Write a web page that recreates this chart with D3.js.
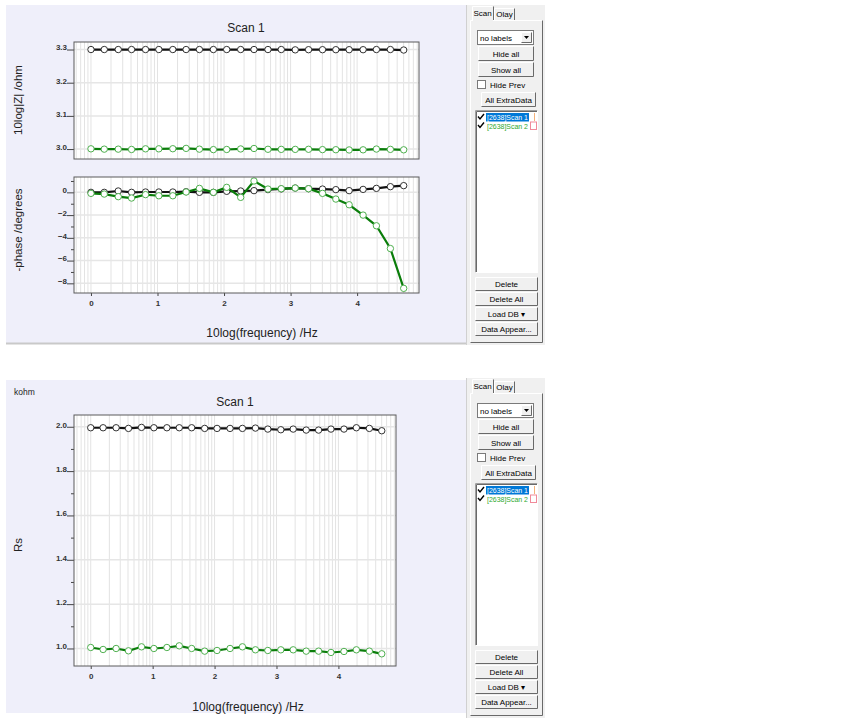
<!doctype html>
<html lang="en">
<head>
  <meta charset="utf-8">
  <style>
    body { margin: 0; background: #fff; }
    svg text { font-family: "Liberation Sans", Arial, sans-serif; }
  </style>
  <script src="https://d3js.org/d3.v7.min.js"></script>
</head>
<body>
  <div id="chart"></div>
  <script>
    // 10log(frequency) of each measured point
    var logFreq = [0, 0.2, 0.41, 0.61, 0.82, 1.02, 1.23, 1.43, 1.63, 1.84, 2.04, 2.25,
                   2.45, 2.66, 2.86, 3.07, 3.27, 3.48, 3.68, 3.88, 4.09, 4.29, 4.5, 4.7];

    // 10log|Z| /ohm
    var zScan1 = [3.300, 3.300, 3.300, 3.300, 3.300, 3.300, 3.300, 3.300, 3.300, 3.300, 3.300, 3.300,
                  3.300, 3.300, 3.300, 3.299, 3.2995, 3.2995, 3.2995, 3.2995, 3.2995, 3.300, 3.300, 3.2985];
    var zScan2 = [3.0007, 2.9997, 2.9997, 2.9987, 3.0007, 3.0007, 3.001, 3.002, 2.9997, 2.9983, 2.9987, 3.0003,
                  3.0017, 2.9993, 2.999, 2.999, 2.9993, 2.9983, 2.998, 2.9973, 2.9977, 3.0, 2.999, 2.9977];

    // -phase /degrees
    var phaseScan1 = [0, 0, 0.12, 0, 0.03, 0.03, 0.03, 0.06, 0, 0, 0.09, 0.12,
                      0.15, 0.24, 0.3, 0.38, 0.32, 0.29, 0.24, 0.15, 0.26, 0.35, 0.5, 0.59];
    var phaseScan2 = [-0.09, -0.15, -0.38, -0.5, -0.2, -0.3, -0.3, 0.03, 0.35, 0, 0.44, -0.44,
                      1.0, 0.29, 0.32, 0.38, 0.32, -0.09, -0.59, -1.09, -2.0, -2.94, -4.94, -8.44];

    // Rs /kohm
    var rsScan1 = [1.9955, 1.9955, 1.9955, 1.9925, 1.997, 1.9955, 1.9955, 1.9955, 1.9955, 1.9925, 1.9925, 1.9925,
                   1.9925, 1.994, 1.9895, 1.9865, 1.9895, 1.985, 1.985, 1.9895, 1.9895, 1.9955, 1.9925, 1.982];
    var rsScan2 = [1.0045, 0.9955, 1.0, 0.9895, 1.0075, 1.0, 1.0045, 1.012, 1.0, 0.988, 0.991, 1.0,
                   1.0075, 0.994, 0.991, 0.994, 0.994, 0.988, 0.988, 0.982, 0.9865, 0.994, 0.988, 0.976];

    // tick labels
    var xTicks = [0, 1, 2, 3, 4];
    var zTicks = [3.0, 3.1, 3.2, 3.3];
    var phaseTicks = [-8, -6, -4, -2, 0];
    var phaseMinor = [-7, -5, -3, -1, 1];
    var rsTicks = [1.0, 1.2, 1.4, 1.6, 1.8, 2.0];
    var rsMinor = [1.1, 1.3, 1.5, 1.7, 1.9];

    var scanNames = ["[2638]Scan 1", "[2638]Scan 2"];
    var panelButtons = ["Delete", "Delete All", "Load DB \u25BE", "Data Appear..."];

    var black = {line: "#111", mark: "#333"};
    var green = {line: "#0a7d0a", mark: "#4fb04f"};

    var svg = d3.select("#chart").append("svg")
        .attr("width", 849).attr("height", 727);

    // log grid positions: 1..9 times each decade
    var logGrid = [];
    d3.range(-1, 5).forEach(function(n) {
      d3.range(1, 10).forEach(function(k) { logGrid.push(Math.log10(k) + n); });
    });

    function drawPlot(box, xDomain, yDomain, ticks, fmt, minor, series, showX) {
      var x = d3.scaleLinear().domain(xDomain).range([box.x0, box.x1]);
      var y = d3.scaleLinear().domain(yDomain).range([box.y1, box.y0]);
      var g = svg.append("g");

      g.append("rect").attr("x", box.x0).attr("y", box.y0)
        .attr("width", box.x1 - box.x0).attr("height", box.y1 - box.y0)
        .attr("fill", "#fff");

      g.append("g").selectAll("line")
        .data(logGrid.filter(function(v) { return v > xDomain[0] && v < xDomain[1]; }))
        .enter().append("line")
        .attr("x1", function(d) { return x(d); }).attr("x2", function(d) { return x(d); })
        .attr("y1", box.y0).attr("y2", box.y1)
        .attr("stroke", "#e3e3e3").attr("stroke-width", 1);

      g.append("g").selectAll("line").data(ticks).enter().append("line")
        .attr("x1", box.x0).attr("x2", box.x1)
        .attr("y1", function(d) { return y(d); }).attr("y2", function(d) { return y(d); })
        .attr("stroke", "#e6e6e6").attr("stroke-width", 1.5);

      var yAxis = g.append("g").attr("transform", "translate(" + box.x0 + ",0)")
        .call(d3.axisLeft(y).tickValues(ticks).tickSize(7).tickPadding(0)
          .tickFormat(d3.format(fmt)));
      yAxis.select(".domain").remove();
      yAxis.selectAll("line").attr("stroke", "#444");
      yAxis.selectAll("text").attr("dy", "0.05em").attr("font-size", 8)
        .attr("font-weight", "bold").attr("fill", "#333");

      if (minor) {
        var mAxis = g.append("g").attr("transform", "translate(" + box.x0 + ",0)")
          .call(d3.axisLeft(y).tickValues(minor).tickSize(3).tickFormat(""));
        mAxis.select(".domain").remove();
        mAxis.selectAll("line").attr("stroke", "#444");
      }

      if (showX) {
        var xAxis = g.append("g").attr("transform", "translate(0," + box.y1 + ")")
          .call(d3.axisBottom(x).tickValues(xTicks).tickSize(3).tickPadding(4)
            .tickFormat(d3.format("d")));
        xAxis.select(".domain").remove();
        xAxis.selectAll("line").attr("stroke", "#444");
        xAxis.selectAll("text").attr("font-size", 8).attr("font-weight", "bold").attr("fill", "#333");
      }

      var line = d3.line()
        .x(function(d, i) { return x(logFreq[i]); })
        .y(function(d) { return y(d); });

      series.forEach(function(s) {
        g.append("path").datum(s.values)
          .attr("d", line).attr("fill", "none")
          .attr("stroke", s.style.line).attr("stroke-width", 2.2);
        g.append("g").selectAll("circle").data(s.values).enter().append("circle")
          .attr("cx", function(d, i) { return x(logFreq[i]); })
          .attr("cy", function(d) { return y(d); })
          .attr("r", 3.2).attr("fill", "#fff")
          .attr("stroke", s.style.mark).attr("stroke-width", 1);
      });

      g.append("rect").attr("x", box.x0).attr("y", box.y0)
        .attr("width", box.x1 - box.x0).attr("height", box.y1 - box.y0)
        .attr("fill", "none").attr("stroke", "#5a5a5a").attr("stroke-width", 1);
    }

    function label(txt, x, y, size, rotate, anchor) {
      var t = svg.append("text").text(txt).attr("font-size", size)
        .attr("fill", "#222").attr("text-anchor", anchor || "middle");
      if (rotate) t.attr("transform", "translate(" + x + "," + y + ") rotate(-90)").attr("dy", "0.35em");
      else t.attr("x", x).attr("y", y);
      return t;
    }

    // ---- top chart: |Z| and phase
    svg.append("rect").attr("x", 6).attr("y", 5).attr("width", 460).attr("height", 338).attr("fill", "#efeffa");
    svg.append("line").attr("x1", 6).attr("x2", 466).attr("y1", 343.5).attr("y2", 343.5).attr("stroke", "#c9c9c9").attr("stroke-width", 2);

    label("Scan 1", 246, 32, 12);
    drawPlot({x0: 74, x1: 419, y0: 42, y1: 159}, [-0.255, 4.93], [2.97, 3.3227], zTicks, ".1f", null,
      [{values: zScan1, style: black}, {values: zScan2, style: green}], false);
    drawPlot({x0: 74, x1: 419, y0: 177, y1: 293}, [-0.255, 4.93], [-8.85, 1.35], phaseTicks, "d", phaseMinor,
      [{values: phaseScan1, style: black}, {values: phaseScan2, style: green}], true);
    label("10log|Z| /ohm", 18, 100, 11.5, true);
    label("-phase /degrees", 18, 230, 11.5, true);
    label("10log(frequency) /Hz", 262, 337, 12);

    // ---- bottom chart: Rs
    svg.append("rect").attr("x", 6).attr("y", 380).attr("width", 460).attr("height", 333).attr("fill", "#efeffa");
    label("kohm", 14, 395, 8.5, false, "start");
    label("Scan 1", 235, 406, 12);
    drawPlot({x0: 74, x1: 396, y0: 415, y1: 666}, [-0.27, 4.93], [0.921, 2.053], rsTicks, ".1f", rsMinor,
      [{values: rsScan1, style: black}, {values: rsScan2, style: green}], true);
    label("Rs", 18, 545, 11.5, true);
    label("10log(frequency) /Hz", 248, 711, 12);

    // ---- side panels
    function bevel(g, x, y, w, h, raised) {
      var hi = raised ? "#fff" : "#a0a0a0", lo = raised ? "#696969" : "#fff";
      g.append("path").attr("d", "M" + x + "," + (y + h) + "V" + y + "H" + (x + w))
        .attr("fill", "none").attr("stroke", hi);
      g.append("path").attr("d", "M" + x + "," + (y + h) + "H" + (x + w) + "V" + y)
        .attr("fill", "none").attr("stroke", lo);
    }

    function button(g, x, y, w, h, txt) {
      g.append("rect").attr("x", x).attr("y", y).attr("width", w).attr("height", h).attr("fill", "#f0f0f0");
      bevel(g, x + 0.5, y + 0.5, w - 1, h - 1, true);
      g.append("text").text(txt).attr("x", x + w / 2).attr("y", y + h / 2 + 3)
        .attr("text-anchor", "middle").attr("font-size", 8).attr("fill", "#000");
    }

    function checkMark(g, x, y) {
      g.append("path").attr("d", "M" + x + "," + (y + 3) + "l2,2.5l4,-5")
        .attr("fill", "none").attr("stroke", "#000").attr("stroke-width", 1.4);
    }

    function drawPanel(y0) {
      var g = svg.append("g");
      g.append("rect").attr("x", 466).attr("y", y0 + 5).attr("width", 79).attr("height", 340).attr("fill", "#f0f0f0");
      g.append("line").attr("x1", 466.5).attr("x2", 466.5).attr("y1", y0 + 5).attr("y2", y0 + 345).attr("stroke", "#d0d0d0");

      // tabs
      bevel(g, 470.5, y0 + 20.5, 72, 322, true);
      g.append("rect").attr("x", 472).attr("y", y0 + 6).attr("width", 21).attr("height", 15).attr("fill", "#f0f0f0");
      g.append("path").attr("d", "M472.5," + (y0 + 21) + "V" + (y0 + 6.5) + "H492.5").attr("fill", "none").attr("stroke", "#fff");
      g.append("path").attr("d", "M493.5," + (y0 + 6.5) + "V" + (y0 + 20)).attr("fill", "none").attr("stroke", "#696969");
      g.append("text").text("Scan").attr("x", 482.5).attr("y", y0 + 16).attr("text-anchor", "middle").attr("font-size", 8);
      g.append("path").attr("d", "M494.5," + (y0 + 20) + "V" + (y0 + 8.5) + "H514.5V" + (y0 + 20)).attr("fill", "none").attr("stroke", "#fff");
      g.append("path").attr("d", "M514.5," + (y0 + 8.5) + "V" + (y0 + 20)).attr("fill", "none").attr("stroke", "#696969");
      g.append("text").text("Olay").attr("x", 504.5).attr("y", y0 + 17).attr("text-anchor", "middle").attr("font-size", 8);

      // label dropdown
      g.append("rect").attr("x", 477.5).attr("y", y0 + 30.5).attr("width", 56).attr("height", 14)
        .attr("fill", "#fff").attr("stroke", "#7a7a7a");
      g.append("text").text("no labels").attr("x", 480).attr("y", y0 + 40.5).attr("font-size", 8);
      g.append("rect").attr("x", 521).attr("y", y0 + 32).attr("width", 11).attr("height", 11).attr("fill", "#f0f0f0");
      bevel(g, 521.5, y0 + 32.5, 10, 10, true);
      g.append("path").attr("d", "M524," + (y0 + 36) + "h5l-2.5,3z").attr("fill", "#000");

      button(g, 478, y0 + 46, 56, 15, "Hide all");
      button(g, 478, y0 + 62, 56, 15, "Show all");

      g.append("rect").attr("x", 477.5).attr("y", y0 + 80.5).attr("width", 8).attr("height", 8)
        .attr("fill", "#fff").attr("stroke", "#7a7a7a");
      g.append("text").text("Hide Prev").attr("x", 490).attr("y", y0 + 87.5).attr("font-size", 8);

      button(g, 481, y0 + 92, 55, 15, "All ExtraData");

      // scan list
      g.append("rect").attr("x", 475).attr("y", y0 + 110).attr("width", 63).attr("height", 163).attr("fill", "#fff");
      bevel(g, 475.5, y0 + 110.5, 62, 162, false);
      g.append("path").attr("d", "M476.5," + (y0 + 272) + "V" + (y0 + 111.5) + "H537").attr("fill", "none").attr("stroke", "#696969");

      g.selectAll(".item").data(scanNames).enter().append("g")
        .attr("class", "item")
        .each(function(d, i) {
          var row = d3.select(this), ry = y0 + 113 + i * 8.5;
          checkMark(row, 478, ry + 0.5);
          if (i === 0) {
            row.append("rect").attr("x", 486).attr("y", ry).attr("width", 43).attr("height", 8.5).attr("fill", "#0078d7");
            row.append("line").attr("x1", 534.5).attr("x2", 534.5).attr("y1", ry).attr("y2", ry + 8)
              .attr("stroke", "#f5b27a").attr("stroke-width", 1);
          } else {
            row.append("rect").attr("x", 530.5).attr("y", ry + 0.5).attr("width", 6).attr("height", 7.5)
              .attr("fill", "none").attr("stroke", "#f08a9a");
          }
          row.append("text").text(d).attr("x", 487).attr("y", ry + 7).attr("font-size", 8)
            .attr("textLength", 41).attr("lengthAdjust", "spacingAndGlyphs")
            .attr("fill", i === 0 ? "#fff" : "#2ea82e");
        });

      panelButtons.forEach(function(b, i) {
        button(g, 475, y0 + 277 + i * 15, 63, 14, b);
      });
    }

    drawPanel(0);
    drawPanel(373);
  </script>
</body>
</html>
